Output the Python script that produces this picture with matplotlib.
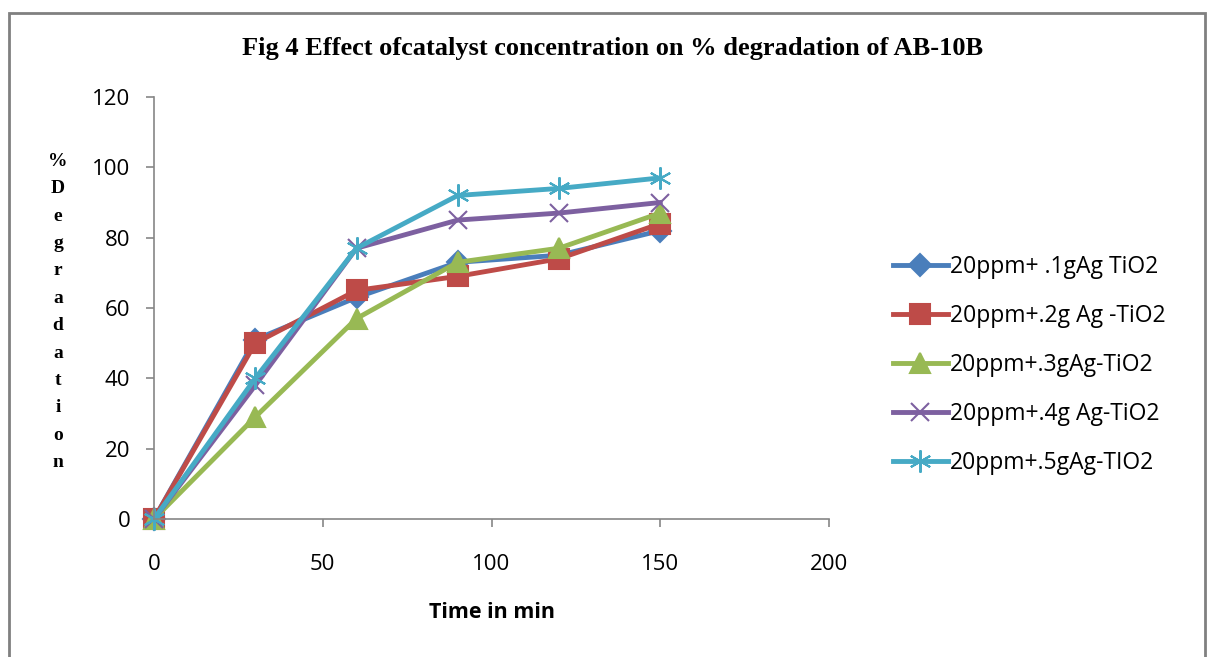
import matplotlib.pyplot as plt
from matplotlib.patches import Rectangle

# Dane
time = [0, 30, 60, 90, 120, 150]
s1 = [0, 51, 63, 73, 75, 82]
s2 = [0, 50, 65, 69, 74, 84]
s3 = [0, 29, 57, 73, 77, 87]
s4 = [0, 38, 77, 85, 87, 90]
s5 = [0, 40, 77, 92, 94, 97]
labels = ["20ppm+ .1gAg TiO2", "20ppm+.2g Ag -TiO2", "20ppm+.3gAg-TiO2",
          "20ppm+.4g Ag-TiO2", "20ppm+.5gAg-TIO2"]

colors = ["#4A7EBB", "#BE4B48", "#98B954", "#7D60A0", "#46AAC5"]
markers = ["D", "s", "^", "x", (6, 2, 0)]
msizes = [11, 14, 14, 13, 16]

fig = plt.figure(figsize=(12.08, 6.57), dpi=100)
ax = fig.add_axes([154 / 1208, 1 - 519 / 657, (829 - 154) / 1208, (519 - 97) / 657])

for ys, c, m, ms, lab in zip([s1, s2, s3, s4, s5], colors, markers, msizes, labels):
    ax.plot(time, ys, color=c, lw=3.5, marker=m, ms=ms, mew=1.5,
            mec=c, mfc=c, label=lab, clip_on=False)

ax.set_xlim(0, 200)
ax.set_ylim(0, 120)
ax.set_xticks([0, 50, 100, 150, 200])
ax.set_yticks(range(0, 121, 20))
for side in ["top", "right"]:
    ax.spines[side].set_visible(False)
for side in ["left", "bottom"]:
    ax.spines[side].set_color("#868686")
    ax.spines[side].set_linewidth(1.2)
ax.tick_params(colors="#868686", labelcolor="black", labelsize=16, length=6,
               width=1.2)
ax.tick_params(axis="x", pad=19)
ax.tick_params(axis="y", pad=11)
for t in ax.get_xticklabels() + ax.get_yticklabels():
    t.set_family("Open Sans")

fig.text(0.507, 1 - 48 / 657, "Fig 4 Effect ofcatalyst concentration on % degradation of AB-10B",
         ha="center", va="center", family="Liberation Serif", weight="bold", fontsize=19)
fig.text(58 / 1208, 1 - 312 / 657, "\n".join("%Degradation"), ha="center", va="center",
         family="Liberation Serif", weight="bold", fontsize=14, linespacing=1.8)
fig.text(492 / 1208, 1 - 613 / 657, "Time in min", ha="center", va="center",
         family="Open Sans", weight="bold", fontsize=15.5)

leg = ax.legend(loc="center left", bbox_to_anchor=(872 / 1208, 1 - 365 / 657),
                bbox_transform=fig.transFigure, frameon=False,
                prop={"family": "Open Sans", "size": 16.5}, handlelength=2.4,
                labelspacing=1.1, handletextpad=0.1)

fig.patches.append(Rectangle((9 / 1208, -0.1), 1196 / 1208, 1.1 - 13 / 657,
                             transform=fig.transFigure, fill=False,
                             edgecolor="#808080", lw=2))

fig.savefig("out.png", dpi=100)
